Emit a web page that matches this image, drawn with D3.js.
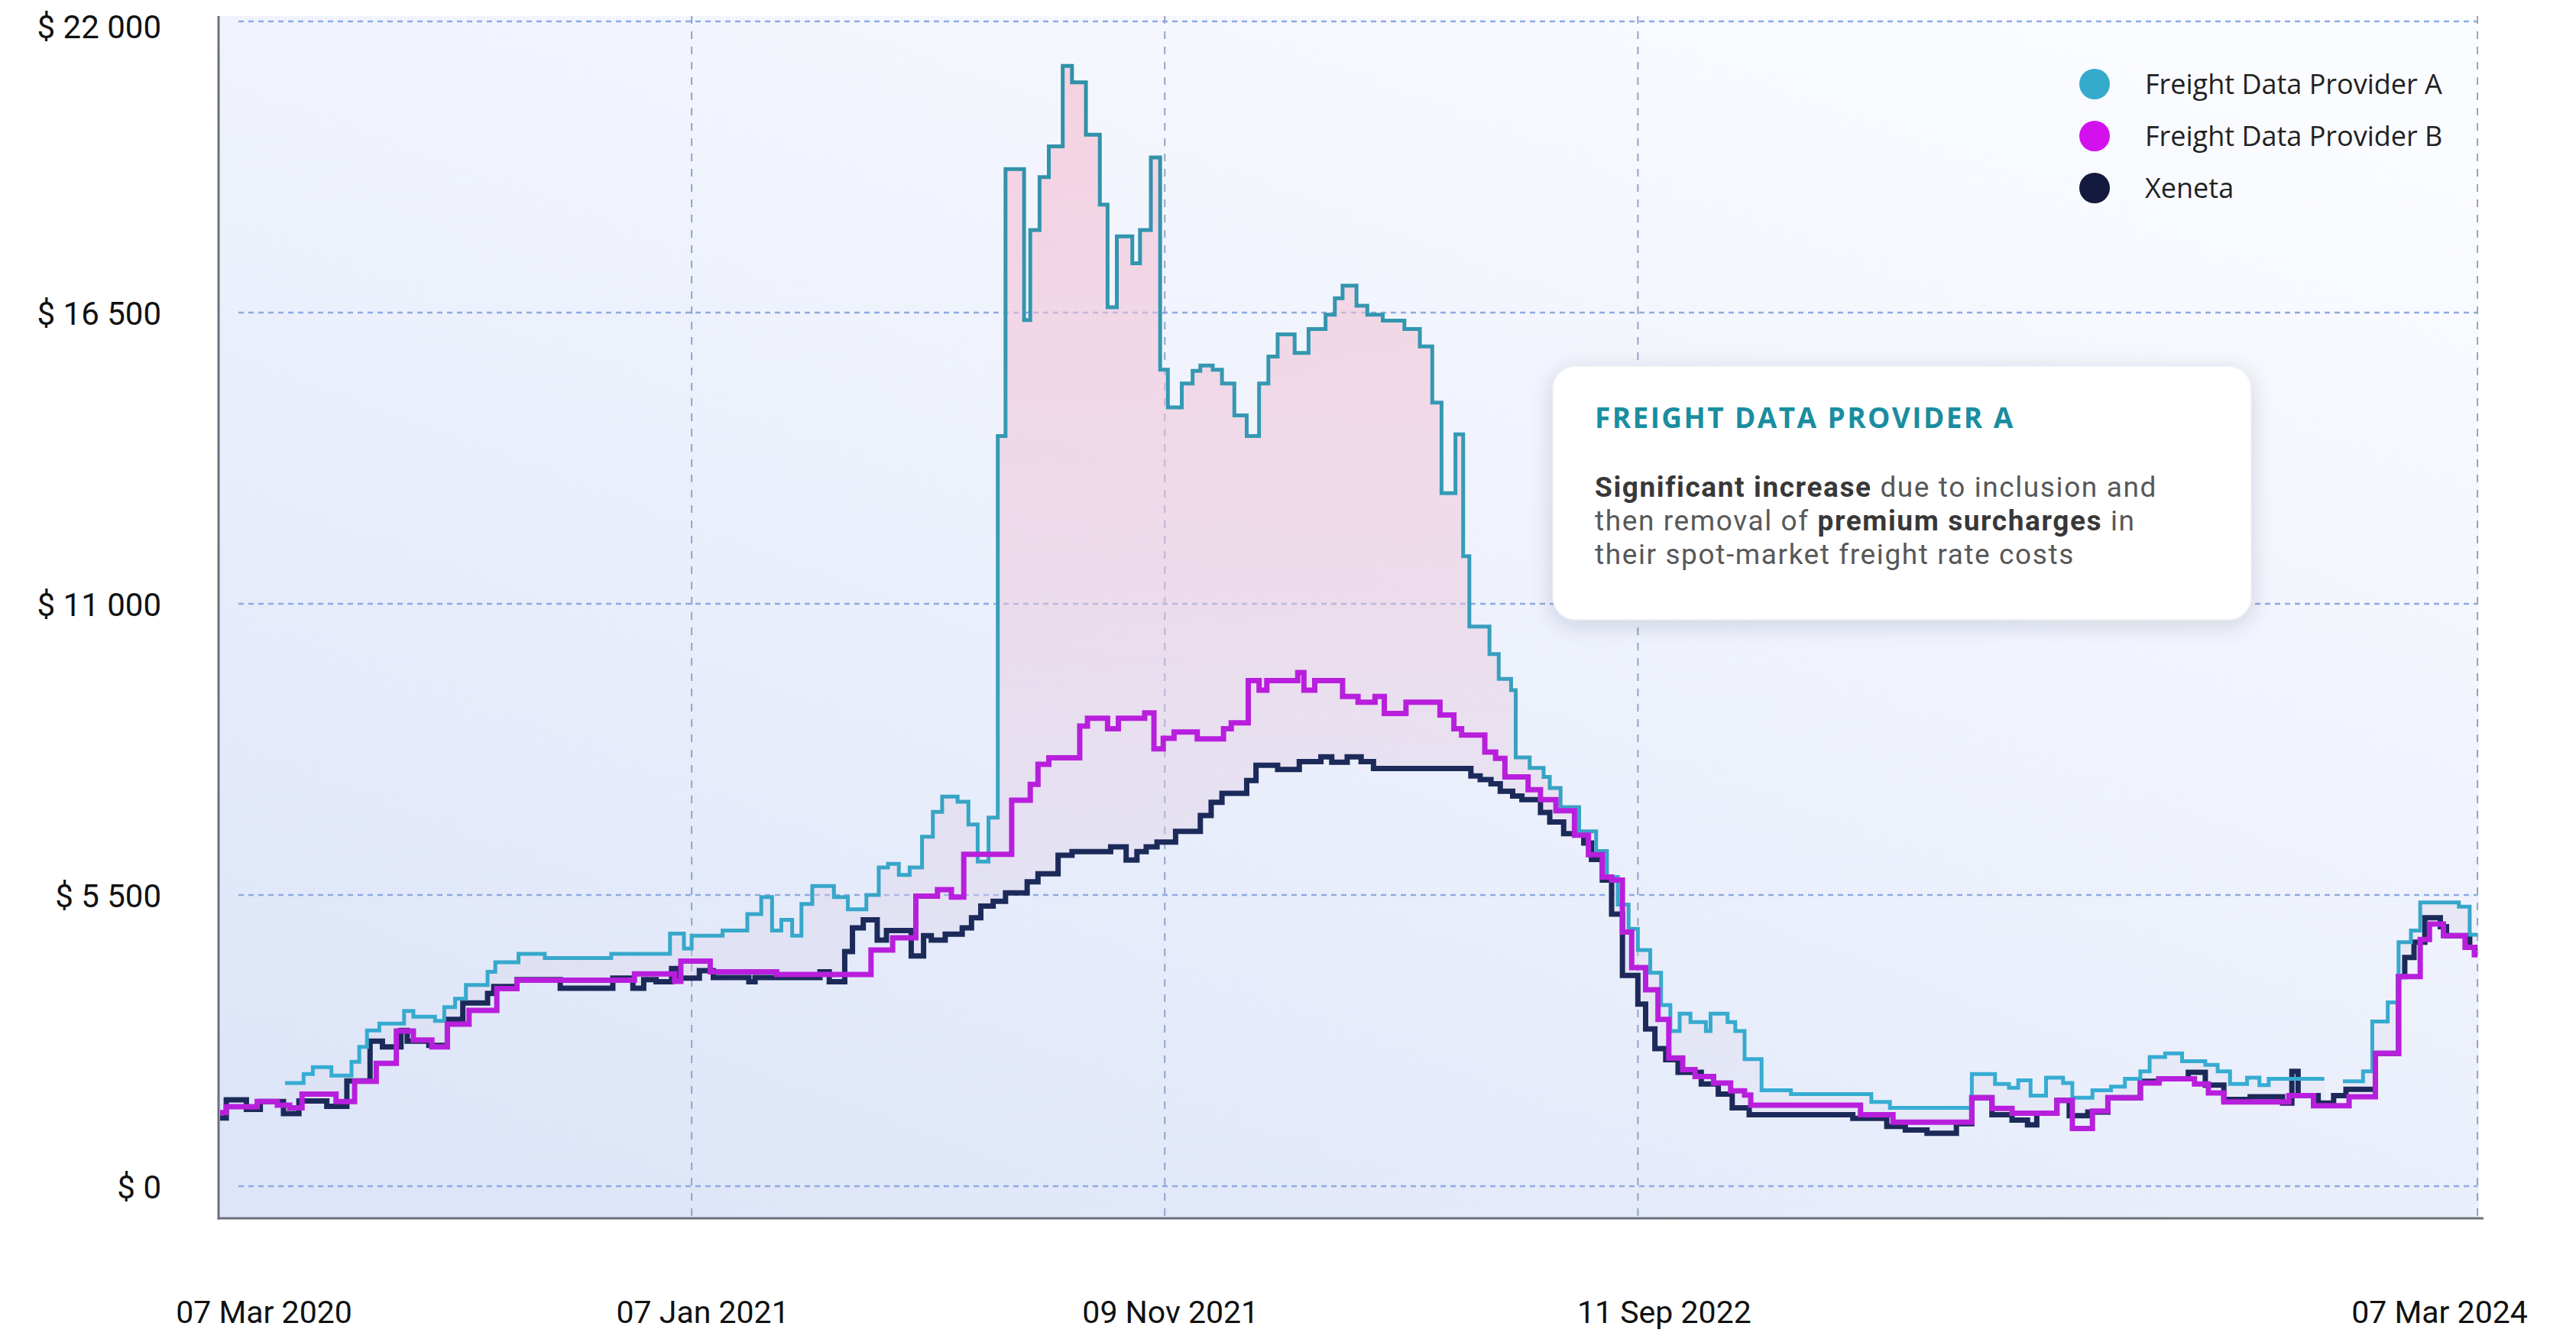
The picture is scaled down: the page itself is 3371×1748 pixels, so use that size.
<!DOCTYPE html>
<html><head><meta charset="utf-8">
<script src="https://cdn.jsdelivr.net/npm/d3@7"></script>
<style>
html,body{margin:0;padding:0;background:#ffffff;}
svg{display:block;}
text{white-space:pre;}
</style></head>
<body>
<svg id="chart" width="3371" height="1748"></svg>
<script>
// ---------------- DATA ----------------
const yTicks = [0, 5500, 11000, 16500, 22000];
const xTickDates = ["2020-03-07", "2021-01-07", "2021-11-09", "2022-09-11", "2024-03-07"];
const xTickLabels = ["07 Mar 2020", "07 Jan 2021", "09 Nov 2021", "11 Sep 2022", "07 Mar 2024"];
const seriesNames = ["Freight Data Provider A", "Freight Data Provider B", "Xeneta"];
const endDateStr = "2024-03-07";

// change points of each step series: [date, value]  (null = no data)
const providerA = [
["2020-04-19",1950],["2020-05-01",2120],["2020-05-07",2250],["2020-05-19",2090],["2020-06-01",2350],
["2020-06-06",2630],["2020-06-11",2940],["2020-06-19",3070],["2020-07-05",3310],["2020-07-11",3200],
["2020-07-25",3120],["2020-07-31",3380],["2020-08-07",3540],["2020-08-14",3800],["2020-08-28",4050],
["2020-09-02",4230],["2020-09-17",4390],["2020-10-04",4310],["2020-11-16",4390],["2020-12-24",4770],
["2021-01-02",4490],["2021-01-07",4730],["2021-01-27",4830],["2021-02-12",5140],["2021-02-21",5460],
["2021-02-28",4830],["2021-03-06",5030],["2021-03-13",4730],["2021-03-19",5330],["2021-03-26",5670],
["2021-04-09",5460],["2021-04-18",5230],["2021-04-30",5500],["2021-05-08",6020],["2021-05-14",6090],
["2021-05-21",5880],["2021-05-28",6020],["2021-06-05",6600],["2021-06-12",7070],["2021-06-18",7360],
["2021-06-28",7260],["2021-07-05",6830],["2021-07-11",6130],["2021-07-18",6960],["2021-07-24",14170],
["2021-07-29",19210],["2021-08-10",16360],["2021-08-14",18060],["2021-08-20",19060],["2021-08-26",19640],
["2021-09-04",21160],["2021-09-10",20850],["2021-09-19",19860],["2021-09-28",18540],["2021-10-03",16600],
["2021-10-09",17940],["2021-10-19",17430],["2021-10-24",18060],["2021-10-31",19430],["2021-11-06",15420],
["2021-11-11",14710],["2021-11-20",15160],["2021-11-27",15400],["2021-12-02",15500],["2021-12-10",15420],
["2021-12-16",15160],["2021-12-24",14560],["2022-01-01",14170],["2022-01-09",15160],["2022-01-15",15670],
["2022-01-21",16090],["2022-02-01",15740],["2022-02-10",16190],["2022-02-21",16460],["2022-02-27",16770],
["2022-03-04",17010],["2022-03-13",16630],["2022-03-20",16460],["2022-03-30",16350],["2022-04-13",16190],
["2022-04-23",15860],["2022-05-01",14800],["2022-05-07",13090],["2022-05-16",14200],["2022-05-21",11900],
["2022-05-25",10570],["2022-06-07",10050],["2022-06-13",9580],["2022-06-21",9370],["2022-06-24",8100],
["2022-07-03",7900],["2022-07-12",7730],["2022-07-16",7520],["2022-07-23",7160],["2022-08-04",6700],
["2022-08-15",6330],["2022-08-22",5840],["2022-08-29",5320],["2022-09-05",4860],["2022-09-11",4460],
["2022-09-19",4030],["2022-09-26",3420],["2022-10-02",2930],["2022-10-08",3260],["2022-10-15",3100],
["2022-10-25",2930],["2022-10-28",3260],["2022-11-08",3100],["2022-11-13",2930],["2022-11-19",2400],
["2022-11-30",1810],["2022-12-19",1740],["2023-02-09",1590],["2023-02-21",1480],["2023-04-15",2120],
["2023-04-30",1930],["2023-05-09",1860],["2023-05-15",2000],["2023-05-23",1710],["2023-06-02",2050],
["2023-06-13",1950],["2023-06-19",1670],["2023-07-02",1810],["2023-07-14",1880],["2023-07-23",2030],
["2023-08-02",2170],["2023-08-08",2440],["2023-08-18",2510],["2023-08-29",2360],["2023-09-13",2290],
["2023-09-21",2170],["2023-09-29",1930],["2023-10-10",2050],["2023-10-18",1910],["2023-10-24",2030],
["2023-11-29",null],["2023-12-11",1980],["2023-12-24",2170],["2023-12-30",3110],["2024-01-09",3470],
["2024-01-16",4610],["2024-01-24",4830],["2024-01-30",5360],["2024-02-24",5280],["2024-03-02",4750]
];

const providerB = [
["2020-03-08",1390],["2020-03-12",1500],["2020-04-01",1600],["2020-04-14",1530],["2020-04-22",1480],
["2020-04-30",1740],["2020-05-22",1600],["2020-06-03",1980],["2020-06-17",2320],["2020-06-30",2930],
["2020-07-11",2760],["2020-07-23",2630],["2020-08-02",3060],["2020-08-16",3320],["2020-09-03",3730],
["2020-09-16",3890],["2020-12-01",4010],["2020-12-27",3870],["2020-12-31",4250],["2021-01-19",4050],
["2021-03-03",4000],["2021-05-03",4460],["2021-05-17",4690],["2021-06-01",5480],["2021-06-15",5600],
["2021-06-24",5460],["2021-07-02",6270],["2021-08-02",7290],["2021-08-14",7590],["2021-08-19",7970],
["2021-08-26",8090],["2021-09-15",8690],["2021-09-20",8840],["2021-10-03",8640],["2021-10-10",8840],
["2021-10-27",8940],["2021-11-02",8260],["2021-11-08",8460],["2021-11-15",8580],["2021-11-30",8450],
["2021-12-17",8640],["2021-12-22",8750],["2022-01-02",9550],["2022-01-09",9370],["2022-01-14",9550],
["2022-02-03",9700],["2022-02-07",9370],["2022-02-14",9550],["2022-03-04",9250],["2022-03-14",9140],
["2022-03-25",9250],["2022-03-31",8930],["2022-04-14",9140],["2022-05-06",8900],["2022-05-15",8640],
["2022-05-20",8520],["2022-06-04",8200],["2022-06-11",8080],["2022-06-17",7730],["2022-07-02",7490],
["2022-07-10",7300],["2022-07-20",7090],["2022-08-01",6630],["2022-08-10",6260],["2022-08-19",5840],
["2022-08-25",5780],["2022-09-01",4800],["2022-09-07",4130],["2022-09-16",3710],["2022-09-24",3150],
["2022-10-01",2420],["2022-10-10",2200],["2022-10-18",2070],["2022-10-30",1950],["2022-11-10",1800],
["2022-11-19",1720],["2022-11-23",1530],["2023-02-02",1350],["2023-02-23",1210],["2023-04-15",1670],
["2023-04-28",1470],["2023-05-11",1380],["2023-06-09",1620],["2023-06-19",1090],["2023-07-02",1420],
["2023-07-12",1670],["2023-08-02",1950],["2023-08-14",2030],["2023-09-06",1930],["2023-09-15",1760],
["2023-09-25",1590],["2023-11-06",1710],["2023-11-22",1520],["2023-12-15",1690],["2024-01-01",2510],
["2024-01-16",3960],["2024-01-30",4660],["2024-02-05",4950],["2024-02-14",4730],["2024-02-28",4510],
["2024-03-05",4370]
];

const xeneta = [
["2020-03-08",1290],["2020-03-12",1630],["2020-03-25",1450],["2020-04-03",1600],["2020-04-18",1370],
["2020-04-28",1610],["2020-05-16",1510],["2020-05-29",1990],["2020-06-13",2740],["2020-06-21",2630],
["2020-07-03",2940],["2020-07-07",2740],["2020-07-21",2660],["2020-08-02",3150],["2020-08-12",3460],
["2020-08-28",3640],["2020-09-01",3770],["2020-09-16",3900],["2020-10-14",3740],["2020-11-17",3930],
["2020-11-30",3740],["2020-12-07",3900],["2020-12-15",3860],["2020-12-25",4110],["2020-12-29",3930],
["2021-01-12",4070],["2021-01-21",3940],["2021-02-13",3860],["2021-02-17",3940],["2021-03-31",4050],
["2021-04-06",3860],["2021-04-16",4430],["2021-04-21",4880],["2021-04-28",5030],["2021-05-07",4650],
["2021-05-13",4830],["2021-05-29",4350],["2021-06-06",4730],["2021-06-11",4650],["2021-06-20",4760],
["2021-07-01",4880],["2021-07-07",5070],["2021-07-13",5290],["2021-07-21",5380],["2021-07-29",5540],
["2021-08-12",5750],["2021-08-19",5900],["2021-09-01",6250],["2021-09-10",6320],["2021-10-05",6410],
["2021-10-15",6160],["2021-10-22",6320],["2021-10-28",6410],["2021-11-04",6500],["2021-11-16",6700],
["2021-12-02",7000],["2021-12-09",7250],["2021-12-16",7420],["2022-01-01",7660],["2022-01-07",7950],
["2022-01-21",7870],["2022-02-04",8020],["2022-02-18",8110],["2022-02-25",8010],["2022-03-07",8110],
["2022-03-16",8020],["2022-03-24",7890],["2022-05-26",7750],["2022-06-01",7680],["2022-06-08",7600],
["2022-06-14",7460],["2022-06-22",7370],["2022-06-28",7300],["2022-07-10",7060],["2022-07-16",6880],
["2022-07-25",6660],["2022-08-07",6480],["2022-08-12",6170],["2022-08-19",5780],["2022-08-25",5140],
["2022-09-01",3980],["2022-09-11",3440],["2022-09-16",2970],["2022-09-22",2600],["2022-09-29",2390],
["2022-10-07",2150],["2022-10-22",1930],["2022-11-02",1740],["2022-11-11",1480],["2022-11-22",1350],
["2023-01-28",1280],["2023-02-19",1130],["2023-03-03",1060],["2023-03-17",1000],["2023-04-05",1180],
["2023-04-15",1670],["2023-04-28",1350],["2023-05-11",1250],["2023-05-21",1160],["2023-05-27",1380],
["2023-06-09",1620],["2023-06-17",1330],["2023-06-29",1400],["2023-07-12",1670],["2023-08-02",1980],
["2023-08-14",2030],["2023-09-02",2150],["2023-09-13",1910],["2023-09-25",1640],["2023-10-12",1690],
["2023-11-02",1570],["2023-11-08",2170],["2023-11-12",1710],["2023-11-25",1570],["2023-12-05",1710],
["2023-12-13",1830],["2024-01-01",2510],["2024-01-16",3960],["2024-01-20",4320],["2024-01-26",4610],
["2024-02-02",5070],["2024-02-12",4900],["2024-02-16",4730],["2024-03-02",4510]
];

const annotationTitle = "FREIGHT DATA PROVIDER A";
const annotationLines = [
  [["Significant increase", true], [" due to inclusion and", false]],
  [["then removal of ", false], ["premium surcharges", true], [" in", false]],
  [["their spot-market freight rate costs", false]]
];

// ---------------- LAYOUT / STYLE ----------------
const W = 3371, H = 1748;
const plotL = 286, plotR = 3242, plotTop = 21, axisY = 1594;
const labelNudge = [59, 14, 7, 34, -50];
const lineColors = {A: "#35a3c6", B: "#b81fdc", X: "#1c2a5a"};
const legendColors = ["#35aacb", "#d311ee", "#141a3d"];

const parse = d3.utcParse("%Y-%m-%d");
const endDate = parse(endDateStr);

const x = d3.scaleUtc().domain([parse(xTickDates[0]), endDate]).range([plotL, plotR]);
const y = d3.scaleLinear().domain([0, 22000]).range([1552, 28]);

function prep(arr) {
  const pts = [];
  let prev = null;
  arr.forEach(([d, v]) => {
    const date = parse(d);
    if (v === null && prev !== null) pts.push({date, v: prev});
    pts.push({date, v});
    prev = v;
  });
  pts.push({date: endDate, v: prev});
  return pts;
}
const A = prep(providerA), B = prep(providerB), X = prep(xeneta);

function valueAt(pts, t, strict) {
  let v = null;
  for (const p of pts) {
    if (strict ? p.date < t : p.date <= t) v = p.v; else break;
  }
  return v;
}

const svg = d3.select("#chart");
const defs = svg.append("defs");

// plot background gradient
const bg = defs.append("linearGradient").attr("id", "bgGrad")
  .attr("x1", 0.15).attr("y1", 1).attr("x2", 0.85).attr("y2", 0);
bg.append("stop").attr("offset", 0).attr("stop-color", "#dde5f8");
bg.append("stop").attr("offset", 0.5).attr("stop-color", "#edf1fc");
bg.append("stop").attr("offset", 1).attr("stop-color", "#fbfcff");

// fill gradient (between provider A and Xeneta)
const fg = defs.append("linearGradient").attr("id", "fillGrad")
  .attr("gradientUnits", "userSpaceOnUse").attr("x1", 0).attr("x2", 0)
  .attr("y1", y(22000)).attr("y2", y(0));
fg.append("stop").attr("offset", 0).attr("stop-color", "#f7b9cf").attr("stop-opacity", 0.62);
fg.append("stop").attr("offset", 0.45).attr("stop-color", "#eec4d8").attr("stop-opacity", 0.5);
fg.append("stop").attr("offset", 0.75).attr("stop-color", "#dcd0e6").attr("stop-opacity", 0.35);
fg.append("stop").attr("offset", 1).attr("stop-color", "#d6d6ea").attr("stop-opacity", 0.15);

// teal stroke gradient
const tg = defs.append("linearGradient").attr("id", "tealGrad")
  .attr("gradientUnits", "userSpaceOnUse").attr("x1", 0).attr("x2", 0)
  .attr("y1", y(22000)).attr("y2", y(0));
tg.append("stop").attr("offset", 0).attr("stop-color", "#2f8fa4");
tg.append("stop").attr("offset", 0.55).attr("stop-color", "#389fbd");
tg.append("stop").attr("offset", 1).attr("stop-color", "#36afd8");

const sh = defs.append("filter").attr("id", "shadow")
  .attr("x", "-10%").attr("y", "-15%").attr("width", "120%").attr("height", "140%");
sh.append("feDropShadow").attr("dx", 0).attr("dy", 6).attr("stdDeviation", 14)
  .attr("flood-color", "#1a2240").attr("flood-opacity", 0.16);

// background
svg.append("rect").attr("x", plotL).attr("y", plotTop)
  .attr("width", plotR + 2 - plotL).attr("height", axisY - plotTop)
  .attr("fill", "url(#bgGrad)");

// horizontal grid
svg.append("g").selectAll("line").data(yTicks).join("line")
  .attr("x1", plotL + 26).attr("x2", plotR)
  .attr("y1", d => y(d)).attr("y2", d => y(d))
  .attr("stroke", "#8eaae4").attr("stroke-width", 2.5)
  .attr("stroke-dasharray", "7 6");

// vertical grid
svg.append("g").selectAll("line").data(xTickDates.slice(1)).join("line")
  .attr("x1", d => x(parse(d))).attr("x2", d => x(parse(d)))
  .attr("y1", plotTop).attr("y2", axisY)
  .attr("stroke", (d, i, n) => i === n.length - 1 ? "#a4a4a8" : "#95a3c9")
  .attr("stroke-width", 2).attr("stroke-dasharray", "10 10");

// fill between provider A and Xeneta
const union = Array.from(new Set([...A, ...X].map(p => +p.date)))
  .filter(t => t >= +A[0].date).sort((a, b) => a - b);
const rows = [];
union.forEach(t => {
  const date = new Date(t);
  const a = valueAt(A, date, false), xv = valueAt(X, date, false);
  const aPrev = valueAt(A, date, true);
  if (a === null && aPrev !== null) rows.push({date, a: aPrev, x: valueAt(X, date, true)});
  rows.push({date, a, x: xv});
});
const area = d3.area()
  .x(d => x(d.date)).y0(d => y(d.x)).y1(d => y(d.a))
  .defined(d => d.a !== null && d.x !== null)
  .curve(d3.curveStepAfter);
svg.append("path").datum(rows).attr("d", area).attr("fill", "url(#fillGrad)");

// lines
const line = d3.line().x(d => x(d.date)).y(d => y(d.v))
  .defined(d => d.v !== null).curve(d3.curveStepAfter);
const lines = [
  {pts: X, stroke: lineColors.X, w: 7},
  {pts: A, stroke: "url(#tealGrad)", w: 5},
  {pts: B, stroke: lineColors.B, w: 7}
];
svg.append("g").selectAll("path").data(lines).join("path")
  .attr("d", d => line(d.pts)).attr("fill", "none")
  .attr("stroke", d => d.stroke).attr("stroke-width", d => d.w)
  .attr("stroke-linejoin", "miter").attr("stroke-linecap", "butt");

// axis lines
svg.append("line").attr("x1", plotL).attr("x2", plotL).attr("y1", plotTop).attr("y2", axisY + 1.5)
  .attr("stroke", "#6e717b").attr("stroke-width", 3);
svg.append("line").attr("x1", plotL - 1.5).attr("x2", plotR + 8).attr("y1", axisY).attr("y2", axisY)
  .attr("stroke", "#6e717b").attr("stroke-width", 3);

// y axis labels
const fmt = v => "$ " + d3.format(",")(v).replace(/,/g, " ");
const yAxis = svg.append("g").attr("transform", `translate(${plotL},0)`)
  .call(d3.axisLeft(y).tickValues(yTicks).tickSize(0).tickPadding(75).tickFormat(fmt));
yAxis.select(".domain").remove();
yAxis.selectAll("text").attr("font-family", "Roboto").attr("font-size", 42)
  .attr("fill", "#111").attr("dy", (d, i) => d === 22000 ? "0.52em" : "0.36em");

// x axis labels
const xAxis = svg.append("g").attr("transform", `translate(0,${axisY})`)
  .call(d3.axisBottom(x).tickValues(xTickDates.map(parse)).tickSize(0).tickPadding(108)
    .tickFormat((d, i) => xTickLabels[i]));
xAxis.select(".domain").remove();
xAxis.selectAll("text").attr("font-family", "Roboto").attr("font-size", 41)
  .attr("fill", "#111").attr("dx", (d, i) => labelNudge[i]);

// legend
const leg = svg.append("g").selectAll("g").data(seriesNames).join("g")
  .attr("transform", (d, i) => `translate(2741,${110 + i * 68})`);
leg.append("circle").attr("r", 20).attr("fill", (d, i) => legendColors[i]);
leg.append("text").attr("x", 66).attr("dy", "0.35em")
  .attr("font-family", "Open Sans").attr("font-size", 36).attr("fill", "#222")
  .text(d => d);

// annotation box
const ann = svg.append("g");
ann.append("rect").attr("x", 2032).attr("y", 479).attr("width", 914).attr("height", 332)
  .attr("rx", 30).attr("fill", "#ffffff").attr("stroke", "#eceef3").attr("stroke-width", 1.5)
  .attr("filter", "url(#shadow)");
ann.append("text").attr("x", 2087).attr("y", 560)
  .attr("font-family", "Open Sans").attr("font-weight", 700).attr("font-size", 37)
  .attr("letter-spacing", 2.4).attr("fill", "#1a8d9f").text(annotationTitle);
annotationLines.forEach((parts, li) => {
  const t = ann.append("text").attr("x", 2087).attr("y", 650 + li * 44)
    .attr("font-family", "Roboto").attr("font-size", 37).attr("letter-spacing", 1.6);
  parts.forEach(([s, bold]) => {
    t.append("tspan").text(s)
      .attr("font-weight", bold ? 700 : 400)
      .attr("fill", bold ? "#383838" : "#585858");
  });
});
</script>
</body></html>
